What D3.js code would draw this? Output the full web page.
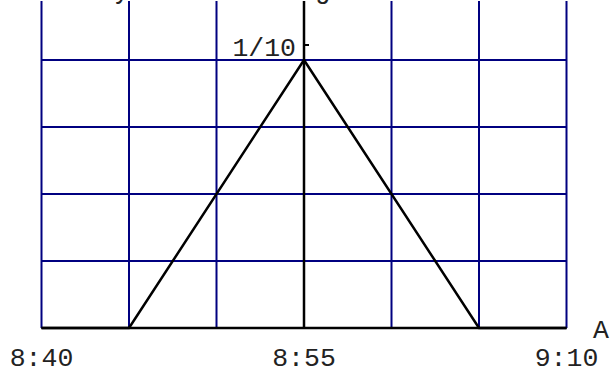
<!DOCTYPE html>
<html><head><meta charset="utf-8">
<script src="https://cdn.jsdelivr.net/npm/d3@7"></script>
<style>html,body{margin:0;padding:0;background:#fff;overflow:hidden}</style>
</head><body><svg id="c" width="613" height="373"></svg>
<script>
// data (minutes after 8:40, density)
const times = [0, 5, 15, 25, 30];
const density = [0, 0, 0.1, 0, 0];
const xGrid = [0, 5, 10, 15, 20, 25, 30];
const yGrid = [0, 0.025, 0.05, 0.075, 0.1];
const xTickLabels = [["8:40", 0], ["8:55", 15], ["9:10", 30]];
const yTickLabel = "1/10";
const xAxisLabel = "A";
const titleText = "Probability of arriving";

const svg = d3.select("#c");
const x = d3.scaleLinear().domain([0, 30]).range([41.5, 566.5]);
const y = d3.scaleLinear().domain([0, 0.1]).range([328, 60]);
const yTop = y.invert(1);
const font = "'Liberation Mono', 'Courier New', monospace";
const navy = "#000080";

svg.append("g").selectAll("line").data(xGrid).join("line")
  .attr("x1", d => x(d)).attr("x2", d => x(d))
  .attr("y1", y(yTop)).attr("y2", y(0))
  .attr("stroke", navy).attr("stroke-width", 2);
svg.append("g").selectAll("line").data(yGrid).join("line")
  .attr("x1", x(0)).attr("x2", x(30))
  .attr("y1", d => y(d)).attr("y2", d => y(d))
  .attr("stroke", navy).attr("stroke-width", 2);

svg.append("line").attr("x1", x(0)).attr("x2", x(30)).attr("y1", y(0)).attr("y2", y(0))
  .attr("stroke", "#000").attr("stroke-width", 2.5);
svg.append("line").attr("x1", x(15)).attr("x2", x(15)).attr("y1", y(yTop)).attr("y2", y(0))
  .attr("stroke", "#000").attr("stroke-width", 2.5);
svg.append("line").attr("x1", x(15)).attr("x2", x(15) + 5).attr("y1", 45).attr("y2", 45)
  .attr("stroke", "#000").attr("stroke-width", 2);

const line = d3.line().x((d, i) => x(times[i])).y(d => y(d));
svg.append("path").datum(density).attr("d", line)
  .attr("fill", "none").attr("stroke", "#000").attr("stroke-width", 2.5)
  .attr("stroke-linejoin", "round");

svg.append("g").selectAll("text").data(xTickLabels).join("text")
  .attr("x", d => x(d[1])).attr("y", 366).attr("text-anchor", "middle")
  .attr("font-family", font).attr("font-size", 26.5).attr("fill", "#222").text(d => d[0]);
svg.append("text").attr("x", 296).attr("y", 56).attr("text-anchor", "end")
  .attr("font-family", font).attr("font-size", 26.5).attr("fill", "#222").text(yTickLabel);
svg.append("text").attr("x", 593).attr("y", 338)
  .attr("font-family", font).attr("font-size", 26.5).attr("fill", "#222").text(xAxisLabel);
svg.append("text").attr("x", -53).attr("y", -2).attr("letter-spacing", 0.5)
  .attr("font-family", font).attr("font-size", 27).attr("fill", "#222").text(titleText);
</script></body></html>
